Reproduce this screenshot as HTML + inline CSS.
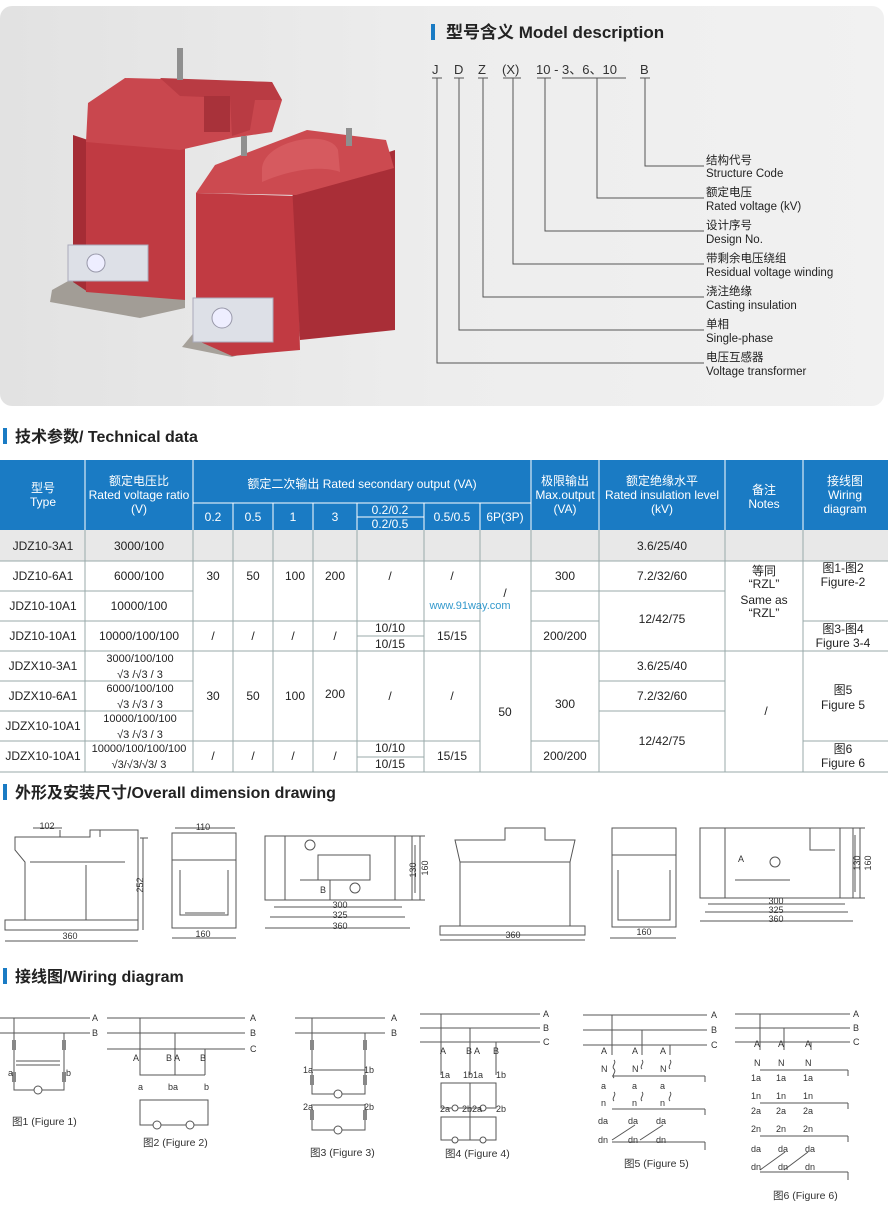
<!DOCTYPE html>
<html><head><meta charset="utf-8"><style>
body{margin:0;background:#fff}
svg{display:block}
text{font-family:"Liberation Sans","Noto Sans CJK SC",sans-serif}
</style></head><body>
<svg width="888" height="1208" viewBox="0 0 888 1208" xmlns="http://www.w3.org/2000/svg">
<defs>
<linearGradient id="bg" x1="0" y1="0" x2="1" y2="0"><stop offset="0" stop-color="#e2e2e2"/><stop offset="0.5" stop-color="#ededed"/><stop offset="1" stop-color="#f1f1f1"/></linearGradient>
</defs>
<rect x="0" y="6" width="884" height="400" rx="12" fill="url(#bg)"/>

<!-- back unit -->
<polygon points="52,290 70,280 185,285 185,308 140,318 50,302" fill="#a29d96"/>
<polygon points="73,135 88,140 88,292 73,282" fill="#a52c35"/>
<polygon points="86,140 185,145 185,300 86,292" fill="#c03a42"/>
<polygon points="88,103 125,78 272,82 282,100 272,132 232,138 180,150 86,142" fill="#c9474e"/>
<polygon points="160,78 272,82 282,100 255,100 250,130 232,136 230,98 180,96" fill="#b93b43"/>
<rect x="204" y="96" width="26" height="36" fill="#a8323a"/>
<rect x="177" y="48" width="6" height="32" fill="#8f8f8f"/>
<rect x="68" y="245" width="80" height="36" fill="#dde0e7" stroke="#aab"/>
<circle cx="96" cy="263" r="9" fill="#eef" stroke="#99a"/>
<!-- front unit -->
<polygon points="182,347 196,330 385,285 392,300 380,312 232,357" fill="#a6a19a"/>
<polygon points="196,193 296,196 300,350 232,356 196,340" fill="#c13a42"/>
<polygon points="292,184 395,150 395,330 300,340" fill="#a92e37"/>
<polygon points="196,193 215,165 307,130 386,140 394,168 296,195" fill="#cc4a50"/>
<path d="M262,170 C262,140 330,128 338,150 L340,172 C320,165 290,170 262,182Z" fill="#d65a5f"/>
<rect x="241" y="136" width="6" height="20" fill="#8f8f8f"/>
<rect x="346" y="128" width="6" height="18" fill="#8f8f8f"/>
<rect x="193" y="298" width="80" height="44" fill="#dde0e7" stroke="#aab"/>
<circle cx="222" cy="318" r="10" fill="#eef" stroke="#99a"/>

<!-- Model description -->
<rect x="431" y="24" width="4" height="16" fill="#1a7bc4"/>
<text x="446" y="38" font-size="17" font-weight="bold" fill="#222">型号含义 Model description</text>
<g font-size="13" fill="#333">
<text x="432" y="74">J</text><text x="454" y="74">D</text><text x="478" y="74">Z</text><text x="502" y="74">(X)</text>
<text x="536" y="74">10 - 3、6、10</text><text x="640" y="74">B</text>
</g>
<g stroke="#555" stroke-width="1" fill="none">
<path d="M432,78h10M454,78h10M478,78h10M503,78h18M537,78h14M562,78h64M640,78h10"/>
<path d="M645,78V166H704M597,78V198H704M545,78V231H704M513,78V264H704M483,78V297H704M459,78V330H704M437,78V363H704"/>
</g>
<g font-size="11.5" fill="#222">
<text x="706" y="164">结构代号</text><text x="706" y="177">Structure Code</text>
<text x="706" y="196">额定电压</text><text x="706" y="210">Rated voltage (kV)</text>
<text x="706" y="229">设计序号</text><text x="706" y="243">Design No.</text>
<text x="706" y="262">带剩余电压绕组</text><text x="706" y="276">Residual voltage winding</text>
<text x="706" y="295">浇注绝缘</text><text x="706" y="309">Casting insulation</text>
<text x="706" y="328">单相</text><text x="706" y="342">Single-phase</text>
<text x="706" y="361">电压互感器</text><text x="706" y="375">Voltage transformer</text>
</g>

<!-- Technical data -->
<rect x="3" y="428" width="4" height="16" fill="#1a7bc4"/>
<text x="15" y="442" font-size="16" font-weight="bold" fill="#222">技术参数/ Technical data</text>
<rect x="0" y="460" width="888" height="70" fill="#1a7bc4"/>
<rect x="0" y="530" width="888" height="31" fill="#e8e8e8"/>
<g stroke="#fff" stroke-width="1">
<path d="M85,460V530M193,460V530M233,503V530M273,503V530M313,503V530M357,503V530M424,503V530M480,503V530M531,460V530M599,460V530M725,460V530M803,460V530M193,503H531M357,517H424"/>
</g>
<g fill="#fff" font-size="12" text-anchor="middle">
<text x="43" y="492">型号</text><text x="43" y="506">Type</text>
<text x="139" y="485">额定电压比</text><text x="139" y="499">Rated voltage ratio</text><text x="139" y="513">(V)</text>
<text x="362" y="488">额定二次输出 Rated secondary output (VA)</text>
<text x="213" y="521">0.2</text><text x="253" y="521">0.5</text><text x="293" y="521">1</text><text x="335" y="521">3</text>
<text x="390" y="514">0.2/0.2</text><text x="390" y="528">0.2/0.5</text><text x="452" y="521">0.5/0.5</text><text x="505" y="521">6P(3P)</text>
<text x="565" y="485">极限输出</text><text x="565" y="499">Max.output</text><text x="565" y="513">(VA)</text>
<text x="662" y="485">额定绝缘水平</text><text x="662" y="499">Rated insulation level</text><text x="662" y="513">(kV)</text>
<text x="764" y="494">备注</text><text x="764" y="508">Notes</text>
<text x="845" y="485">接线图</text><text x="845" y="499">Wiring</text><text x="845" y="513">diagram</text>
</g>
<g stroke="#9aa" stroke-width="1" fill="none">
<path d="M0,561H888M0,591H193M531,591H599M599,591H725M0,621H480M531,621H599M803,621H888M0,651H888M0,681H193M599,681H725M0,711H193M599,711H725M0,741H480M531,741H599M803,741H888M0,772H888"/>
<path d="M357,636H424M357,757H424"/>
<path d="M85,530V772M193,530V772M233,530V561M273,530V561M313,530V561M233,621V651M273,621V651M313,621V651M233,741V772M273,741V772M313,741V772M357,530V772M424,530V772M480,530V772M531,530V772M599,530V772M725,530V772M803,530V772"/>
<path d="M193,561V621M233,561V621M273,561V621M313,561V621M233,651V741M273,651V741M313,651V741"/>
</g>
<g font-size="12" fill="#222" text-anchor="middle">
<text x="43" y="550">JDZ10-3A1</text><text x="139" y="550">3000/100</text><text x="662" y="550">3.6/25/40</text>
<text x="43" y="580">JDZ10-6A1</text><text x="139" y="580">6000/100</text>
<text x="43" y="610">JDZ10-10A1</text><text x="139" y="610">10000/100</text>
<text x="213" y="580">30</text><text x="253" y="580">50</text><text x="295" y="580">100</text><text x="335" y="580">200</text><text x="390" y="580">/</text><text x="452" y="580">/</text>
<text x="565" y="580">300</text><text x="662" y="580">7.2/32/60</text><text x="662" y="623">12/42/75</text>
<text x="505" y="597">/</text>
<text x="764" y="575">等同</text><text x="764" y="588">“RZL”</text><text x="764" y="604">Same as</text><text x="764" y="617">“RZL”</text>
<text x="843" y="572">图1-图2</text><text x="843" y="586">Figure-2</text>
<text x="43" y="640">JDZ10-10A1</text><text x="139" y="640">10000/100/100</text>
<text x="213" y="640">/</text><text x="253" y="640">/</text><text x="293" y="640">/</text><text x="335" y="640">/</text>
<text x="390" y="632">10/10</text><text x="390" y="648">10/15</text><text x="452" y="640">15/15</text><text x="565" y="640">200/200</text>
<text x="843" y="633">图3-图4</text><text x="843" y="647">Figure 3-4</text>
<text x="43" y="670">JDZX10-3A1</text><text x="43" y="700">JDZX10-6A1</text><text x="43" y="730">JDZX10-10A1</text><text x="43" y="760">JDZX10-10A1</text>
<text x="213" y="700">30</text><text x="253" y="700">50</text><text x="295" y="700">100</text><text x="335" y="698">200</text><text x="390" y="700">/</text><text x="452" y="700">/</text>
<text x="505" y="716">50</text><text x="565" y="708">300</text>
<text x="662" y="670">3.6/25/40</text><text x="662" y="700">7.2/32/60</text><text x="662" y="745">12/42/75</text>
<text x="766" y="715">/</text><text x="843" y="694">图5</text><text x="843" y="709">Figure 5</text>
<text x="213" y="760">/</text><text x="253" y="760">/</text><text x="293" y="760">/</text><text x="335" y="760">/</text>
<text x="390" y="752">10/10</text><text x="390" y="768">10/15</text><text x="452" y="760">15/15</text><text x="565" y="760">200/200</text>
<text x="843" y="753">图6</text><text x="843" y="767">Figure 6</text>
</g>
<g font-size="11" fill="#222" text-anchor="middle">
<text x="140" y="662">3000/100/100</text><text x="140" y="678">√3 /√3 / 3</text>
<text x="140" y="692">6000/100/100</text><text x="140" y="708">√3 /√3 / 3</text>
<text x="140" y="722">10000/100/100</text><text x="140" y="738">√3 /√3 / 3</text>
<text x="139" y="752">10000/100/100/100</text><text x="139" y="768">√3/√3/√3/ 3</text>
</g>
<text x="470" y="609" font-size="11" fill="#39c" font-family="Liberation Mono,monospace" text-anchor="middle">www.91way.com</text>

<!-- Dimension drawing -->
<rect x="3" y="784" width="4" height="16" fill="#1a7bc4"/>
<text x="15" y="798" font-size="16" font-weight="bold" fill="#222">外形及安装尺寸/Overall dimension drawing</text>
<g stroke="#555" stroke-width="1" fill="none">
<path d="M5,930H138V920H5ZM25,920V862L15,850V837H90V830H138V920M30,862H125M60,837V830M100,830V837"/>
<path d="M33,828H62M86,865V920" /><path d="M140,838H148M143,838V930"/>
<path d="M5,941H138"/>
<path d="M172,928H236V833H172ZM172,860H236M180,870V915H228V870M185,913H225"/>
<path d="M175,828H235M172,938H236"/>
<path d="M265,836H412V900H265ZM285,836V900M300,836H395V900M318,855H370V880H318ZM300,880H330V900"/>
<path d="M410,836H425M410,900H425M420,836V900M415,845V893"/>
<path d="M274,907H402M270,917H405M265,928H410"/>
<circle cx="355" cy="888" r="5"/><circle cx="310" cy="845" r="5"/>
<path d="M440,926H585V935H440ZM460,926V862L455,840H505V828H545V840H575L570,862V926M460,862H570"/>
<path d="M440,940H585"/>
<path d="M612,927H676V828H612ZM612,855H676M618,870V920H670V870M610,938H676"/>
<path d="M700,828H853V898H700ZM725,828V898M735,828H840V898M765,828H810V850H835M735,880H790"/>
<path d="M850,828H865M850,898H865M860,828V898M855,835V892"/>
<path d="M708,904H845M705,912H848M700,921H853"/>
<circle cx="775" cy="862" r="5"/>
</g>
<g font-size="9" fill="#333" text-anchor="middle">
<text x="47" y="829">102</text><text x="70" y="939">360</text><text x="143" y="885" transform="rotate(-90 143 885)">252</text>
<text x="203" y="830">110</text><text x="203" y="937">160</text>
<text x="340" y="908">300</text><text x="340" y="918">325</text><text x="340" y="929">360</text>
<text x="416" y="870" transform="rotate(-90 416 870)">130</text><text x="428" y="868" transform="rotate(-90 428 868)">160</text>
<text x="323" y="893">B</text>
<text x="513" y="938">360</text><text x="644" y="935">160</text>
<text x="776" y="904">300</text><text x="776" y="913">325</text><text x="776" y="922">360</text>
<text x="741" y="862">A</text>
<text x="860" y="863" transform="rotate(-90 860 863)">130</text><text x="871" y="863" transform="rotate(-90 871 863)">160</text>
</g>

<!-- Wiring -->
<rect x="3" y="968" width="4" height="16" fill="#1a7bc4"/>
<text x="15" y="982" font-size="16" font-weight="bold" fill="#222">接线图/Wiring diagram</text>
<g stroke="#555" stroke-width="1" fill="none">
<path d="M0,1018H90M0,1033H90M14,1018V1090H48M64,1033V1090H48M16,1061H60M16,1065H60"/>
<path d="M107,1018H245M107,1033H245M107,1049H245M140,1018V1075H205M175,1033V1075M205,1049V1075M140,1100H208V1125H140Z"/>
<path d="M295,1018H385M295,1033H385M312,1018V1094H365V1033M312,1104V1130H365V1104M313,1070H365M313,1105H365"/>
<path d="M420,1014H540M420,1028H540M420,1042H540M441,1014V1075M470,1028V1075M496,1042V1075M441,1083H496V1108H441ZM441,1117H496V1140H441ZM470,1083V1140"/>
<path d="M583,1015H707M583,1030H707M583,1045H707M612,1015V1055M642,1030V1055M670,1045V1055M612,1076H705M612,1109H705M612,1142H705M705,1076V1082M705,1109V1115M705,1142V1150"/>
<path d="M614,1060c3,3-3,6,0,9s-3,6,0,9M642,1060c3,3-3,6,0,9M670,1060c3,3-3,6,0,9M614,1092c3,3-3,6,0,9M642,1092c3,3-3,6,0,9M670,1092c3,3-3,6,0,9M612,1140L635,1125M640,1140L663,1125"/>
<path d="M735,1014H850M735,1028H850M735,1042H850M760,1014V1050M784,1028V1050M811,1042V1050M760,1070H848M760,1103H848M760,1136H848M760,1172H848M848,1070V1076M848,1103V1109M848,1136V1142M848,1172V1180M760,1170L785,1152M784,1170L808,1152"/>
</g>
<g fill="#888"><rect x="12" y="1040" width="4" height="10"/><rect x="62" y="1040" width="4" height="10"/><rect x="12" y="1072" width="4" height="10"/><rect x="62" y="1072" width="4" height="10"/>
<rect x="310" y="1040" width="4" height="10"/><rect x="363" y="1040" width="4" height="10"/><rect x="310" y="1075" width="4" height="10"/><rect x="363" y="1075" width="4" height="10"/><rect x="310" y="1110" width="4" height="10"/><rect x="363" y="1110" width="4" height="10"/></g>
<g fill="#fff" stroke="#555"><circle cx="38" cy="1090" r="4"/><circle cx="157" cy="1125" r="4"/><circle cx="190" cy="1125" r="4"/><circle cx="338" cy="1094" r="4"/><circle cx="338" cy="1130" r="4"/><circle cx="455" cy="1108" r="3"/><circle cx="483" cy="1108" r="3"/><circle cx="455" cy="1140" r="3"/><circle cx="483" cy="1140" r="3"/></g>
<g font-size="9" fill="#333">
<text x="92" y="1021">A</text><text x="92" y="1036">B</text><text x="8" y="1076">a</text><text x="66" y="1076">b</text>
<text x="250" y="1021">A</text><text x="250" y="1036">B</text><text x="250" y="1052">C</text><text x="133" y="1061">A</text><text x="166" y="1061">B A</text><text x="200" y="1061">B</text><text x="138" y="1090">a</text><text x="168" y="1090">ba</text><text x="204" y="1090">b</text>
<text x="391" y="1021">A</text><text x="391" y="1036">B</text><text x="303" y="1073">1a</text><text x="364" y="1073">1b</text><text x="303" y="1110">2a</text><text x="364" y="1110">2b</text>
<text x="543" y="1017">A</text><text x="543" y="1031">B</text><text x="543" y="1045">C</text><text x="440" y="1054">A</text><text x="466" y="1054">B A</text><text x="493" y="1054">B</text><text x="440" y="1078">1a</text><text x="463" y="1078">1b1a</text><text x="496" y="1078">1b</text><text x="440" y="1112">2a</text><text x="462" y="1112">2b2a</text><text x="496" y="1112">2b</text>
<text x="711" y="1018">A</text><text x="711" y="1033">B</text><text x="711" y="1048">C</text>
<text x="601" y="1054">A</text><text x="632" y="1054">A</text><text x="660" y="1054">A</text><text x="601" y="1072">N</text><text x="632" y="1072">N</text><text x="660" y="1072">N</text>
<text x="601" y="1089">a</text><text x="632" y="1089">a</text><text x="660" y="1089">a</text><text x="601" y="1106">n</text><text x="632" y="1106">n</text><text x="660" y="1106">n</text>
<text x="598" y="1124">da</text><text x="628" y="1124">da</text><text x="656" y="1124">da</text><text x="598" y="1143">dn</text><text x="628" y="1143">dn</text><text x="656" y="1143">dn</text>
<text x="853" y="1017">A</text><text x="853" y="1031">B</text><text x="853" y="1045">C</text>
<text x="754" y="1047">A</text><text x="778" y="1047">A</text><text x="805" y="1047">A</text><text x="754" y="1066">N</text><text x="778" y="1066">N</text><text x="805" y="1066">N</text>
<text x="751" y="1081">1a</text><text x="776" y="1081">1a</text><text x="803" y="1081">1a</text><text x="751" y="1099">1n</text><text x="776" y="1099">1n</text><text x="803" y="1099">1n</text>
<text x="751" y="1114">2a</text><text x="776" y="1114">2a</text><text x="803" y="1114">2a</text><text x="751" y="1132">2n</text><text x="776" y="1132">2n</text><text x="803" y="1132">2n</text>
<text x="751" y="1152">da</text><text x="778" y="1152">da</text><text x="805" y="1152">da</text><text x="751" y="1170">dn</text><text x="778" y="1170">dn</text><text x="805" y="1170">dn</text>
</g>
<g font-size="10.5" fill="#333">
<text x="12" y="1125">图1 (Figure 1)</text><text x="143" y="1146">图2 (Figure 2)</text><text x="310" y="1156">图3 (Figure 3)</text>
<text x="445" y="1157">图4 (Figure 4)</text><text x="624" y="1167">图5 (Figure 5)</text><text x="773" y="1199">图6 (Figure 6)</text>
</g>
</svg>
</body></html>
